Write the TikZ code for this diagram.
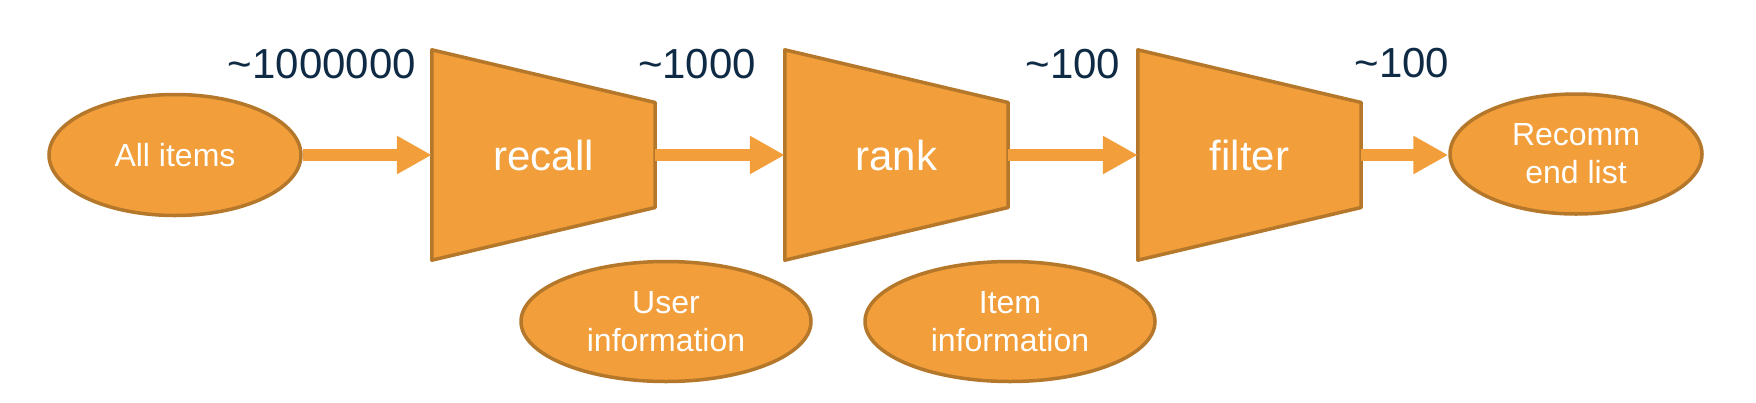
\documentclass[tikz,border=0pt]{standalone}
\usepackage{fontspec}
\setmainfont{Liberation Sans}
\usetikzlibrary{shapes.geometric,arrows.meta,backgrounds,calc}
\definecolor{ofill}{HTML}{F19E3B}
\definecolor{oline}{HTML}{B5772A}
\definecolor{numcol}{HTML}{0E2A44}
\begin{document}
\begin{tikzpicture}[x=1pt,y=-1pt,
  oval/.style={ellipse,draw=oline,fill=ofill,line width=3.5pt,inner sep=0pt,text=white,align=center,font=\fontsize{32}{38}\selectfont},
  funnel/.style={minimum width=223pt,minimum height=210pt,inner sep=0pt,text=white,font=\fontsize{42}{50}\selectfont},
  count/.style={text=numcol,inner sep=0pt,font=\fontsize{42}{50}\selectfont},
  flow/.style={draw=ofill,line width=12pt,-{Triangle[length=35pt,width=36pt]}},
  funnelshape/.style={draw=oline,fill=ofill,line width=3.5pt,line join=round}]
\useasboundingbox (0,0) rectangle (1756,402);
\node[oval,minimum width=252pt,minimum height=121pt] (all) at (175,155) {All items};
\node[funnel] (recall) at (543.5,155) {recall};
\node[funnel] (rank) at (896.5,155) {rank};
\node[funnel] (filter) at (1249.5,155) {filter};
\node[oval,minimum width=252pt,minimum height=120pt] (rec) at (1576,154) {Recomm\\end list};
\node[oval,minimum width=290pt,minimum height=120pt] (user) at (666,321.5) {User\\information};
\node[oval,minimum width=290pt,minimum height=120pt] (item) at (1010,321.5) {Item\\information};
\node[count] (c1) at (322,64) {\textasciitilde1000000};
\node[count] (c2) at (697,64) {\textasciitilde1000};
\node[count] (c3) at (1073,64) {\textasciitilde100};
\node[count] (c4) at (1402,63) {\textasciitilde100};
\begin{scope}[on background layer]
\foreach \n in {recall,rank,filter}{
  \draw[funnelshape] (\n.north west) -- ($(\n.east)+(0,-52.5)$) -- ($(\n.east)+(0,52.5)$) -- (\n.south west) -- cycle;
}
\end{scope}
\draw[flow] (all.east) -- (recall.west);
\draw[flow] (recall.east) -- (rank.west);
\draw[flow] (rank.east) -- (filter.west);
\draw[flow] (filter.east) -- (filter.east -| rec.west);
\end{tikzpicture}
\end{document}
